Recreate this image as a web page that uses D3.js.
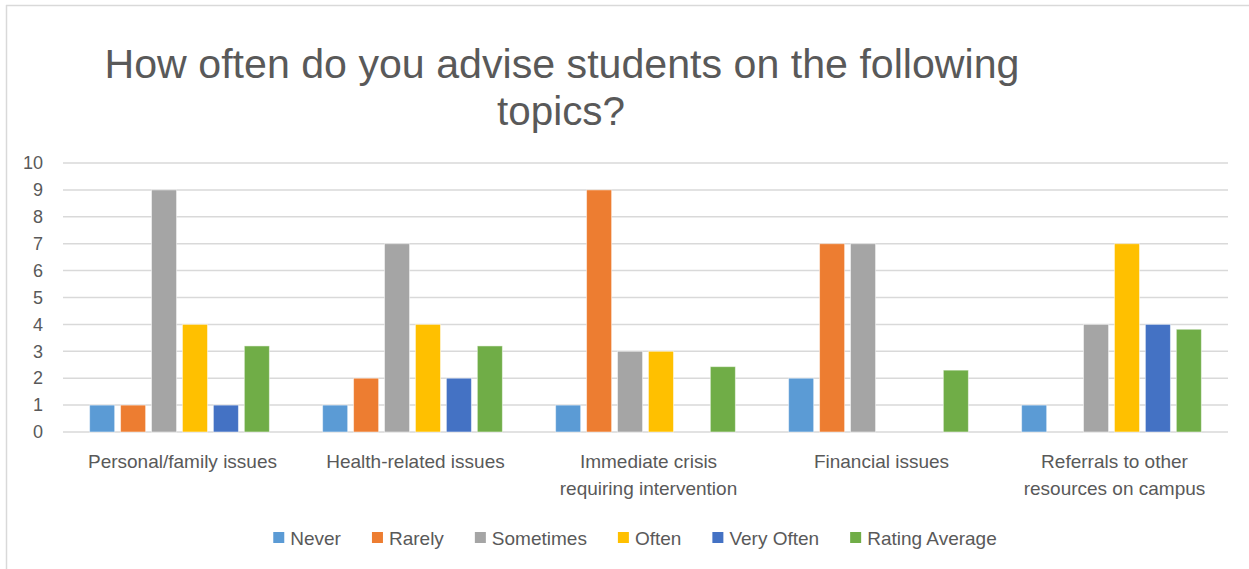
<!DOCTYPE html>
<html>
<head>
<meta charset="utf-8">
<script src="https://cdn.jsdelivr.net/npm/d3@7/dist/d3.min.js"></script>
<style>
  html, body { margin: 0; padding: 0; background: #ffffff; }
  svg { display: block; }
  text { font-family: "Liberation Sans", Arial, sans-serif; fill: #595959; }
</style>
</head>
<body>
<svg id="chart" width="1249" height="569"></svg>
<script>
// Survey topics (x categories)
const categories = [
  ["Personal/family issues"],
  ["Health-related issues"],
  ["Immediate crisis", "requiring intervention"],
  ["Financial issues"],
  ["Referrals to other", "resources on campus"]
];
const categoryKeys = categories.map(c => c.join(" "));

// Response series
const seriesNames = ["Never", "Rarely", "Sometimes", "Often", "Very Often", "Rating Average"];
const seriesColors = ["#5B9BD5", "#ED7D31", "#A5A5A5", "#FFC000", "#4472C4", "#70AD47"];

const never         = [1, 1, 1, 2, 1];
const rarely        = [1, 2, 9, 7, 0];
const sometimes     = [9, 7, 3, 7, 4];
const often         = [4, 4, 3, 0, 7];
const veryOften     = [1, 2, 0, 0, 4];
const ratingAverage = [3.2, 3.2, 2.43, 2.3, 3.82];

const seriesValues = [never, rarely, sometimes, often, veryOften, ratingAverage];

const yTicks = [0, 1, 2, 3, 4, 5, 6, 7, 8, 9, 10];

const titleLines = ["How often do you advise students on the following", "topics?"];

// Build table rows for drawing
const rows = categoryKeys.map((key, i) => ({
  key,
  values: seriesNames.map((name, s) => ({ name, value: seriesValues[s][i], color: seriesColors[s] }))
}));

const svg = d3.select("#chart");

// Chart frame edges
svg.append("line").attr("x1", 6).attr("x2", 1249).attr("y1", 5.5).attr("y2", 5.5)
  .attr("stroke", "#d9d9d9").attr("stroke-width", 1.5);
svg.append("line").attr("x1", 6.5).attr("x2", 6.5).attr("y1", 5).attr("y2", 569)
  .attr("stroke", "#d9d9d9").attr("stroke-width", 1.5);

const plot = { left: 63, right: 1228, top: 163, bottom: 432 };

const x0 = d3.scaleBand().domain(categoryKeys).range([plot.left, plot.right]).paddingInner(0).paddingOuter(0);
const x1 = d3.scaleBand().domain(seriesNames).range([0, x0.bandwidth()]).paddingInner(0.19).paddingOuter(0.86);
const y = d3.scaleLinear().domain([0, 10]).range([plot.bottom, plot.top]);

// Gridlines
svg.append("g")
  .selectAll("line")
  .data(yTicks)
  .join("line")
  .attr("x1", plot.left).attr("x2", plot.right)
  .attr("y1", d => y(d)).attr("y2", d => y(d))
  .attr("stroke", "#d9d9d9").attr("stroke-width", 1.5);

// Y axis labels
const yAxis = d3.axisLeft(y).tickValues(yTicks).tickSize(0).tickPadding(0);
const yG = svg.append("g").attr("transform", `translate(${plot.left - 20},0)`).call(yAxis);
yG.select(".domain").remove();
yG.selectAll("text").attr("font-size", 18).attr("fill", "#595959")
  .style("font-family", "'Liberation Sans', Arial, sans-serif");

// Bars
const groups = svg.append("g").selectAll("g")
  .data(rows)
  .join("g")
  .attr("transform", d => `translate(${x0(d.key)},0)`);

groups.selectAll("rect")
  .data(d => d.values.filter(v => v.value > 0))
  .join("rect")
  .attr("x", d => x1(d.name))
  .attr("width", x1.bandwidth())
  .attr("y", d => y(d.value))
  .attr("height", d => y(0) - y(d.value))
  .attr("fill", d => d.color)
  .attr("stroke", "#ffffff")
  .attr("stroke-opacity", 0.5)
  .attr("stroke-width", 1);

// X axis category labels (wrapped)
const xLabels = svg.append("g").selectAll("text")
  .data(categories)
  .join("text")
  .attr("x", (d, i) => x0(categoryKeys[i]) + x0.bandwidth() / 2 + 3)
  .attr("y", 468)
  .attr("text-anchor", "middle")
  .attr("font-size", 19);
xLabels.selectAll("tspan")
  .data(d => d)
  .join("tspan")
  .attr("x", function () { return d3.select(this.parentNode).attr("x"); })
  .attr("dy", (d, i) => i === 0 ? 0 : 27)
  .text(d => d);

// Title
svg.append("text")
  .attr("x", 562).attr("y", 78)
  .attr("text-anchor", "middle")
  .attr("font-size", 40)
  .attr("textLength", 915)
  .attr("lengthAdjust", "spacingAndGlyphs")
  .text(titleLines[0]);
svg.append("text")
  .attr("x", 561).attr("y", 125)
  .attr("text-anchor", "middle")
  .attr("font-size", 40)
  .attr("textLength", 128)
  .attr("lengthAdjust", "spacingAndGlyphs")
  .text(titleLines[1]);

// Legend
const legend = svg.append("g");
const items = legend.selectAll("g")
  .data(seriesNames.map((n, i) => ({ name: n, color: seriesColors[i] })))
  .join("g");
items.append("rect")
  .attr("width", 11).attr("height", 11)
  .attr("y", 532)
  .attr("fill", d => d.color);
items.append("text")
  .attr("x", 17).attr("y", 544.5)
  .attr("font-size", 19)
  .text(d => d.name);

let cursor = 0;
const gap = 31;
items.each(function () {
  const g = d3.select(this);
  const w = 17 + g.select("text").node().getComputedTextLength();
  g.attr("transform", `translate(${cursor},0)`);
  cursor += w + gap;
});
const legendWidth = cursor - gap;
legend.attr("transform", `translate(${635 - legendWidth / 2},0)`);
</script>
</body>
</html>
